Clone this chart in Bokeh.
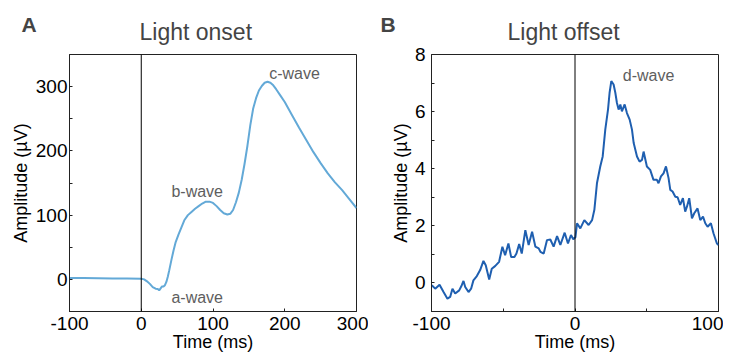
from bokeh.plotting import figure
from bokeh.models import Range1d, Span, Label, FixedTicker, Title, PrintfTickFormatter
from bokeh.layouts import row
from bokeh.embed import file_html
from bokeh.resources import INLINE

# ---------------- data ----------------
onset_time_ms = [-100, -80, -60, -40, -20, 0, 4, 8, 12, 16, 20, 23, 25, 27, 29, 31, 33, 35, 37, 39,
                 42, 45, 48, 52, 56, 60, 65, 70, 75, 80, 85, 90, 95, 100, 105, 110, 115, 120, 124,
                 128, 132, 136, 140, 144, 148, 152, 156, 160, 164, 168, 172, 176, 180, 184, 188,
                 194, 200, 210, 220, 230, 240, 250, 260, 270, 280, 290, 300]
onset_amp_uv = [2, 2, 1.8, 1.5, 1.5, 1, 0, -3, -7, -12, -14.5, -15, -17, -14, -11, -11, -9, -4, 4, 14,
                30, 45, 58, 70, 81, 92, 100, 105, 110, 114, 118, 121, 121, 119, 114, 108, 103, 101, 102,
                108, 120, 135, 155, 180, 208, 240, 266, 282, 294, 301, 306, 307.5, 306, 302, 296,
                286, 276, 256, 236, 217, 198, 181, 165, 151, 139, 125, 111]

offset_time_ms = [-99.8, -97.4, -94.4, -91.6, -88.9, -87.0, -85.4, -83.5, -80.7, -78.9, -77.7, -76.5,
                  -74.2, -72.4, -70.8, -68.4, -66.1, -63.8, -62.2, -59.8, -58.0, -55.7, -52.9, -50.6,
                  -48.7, -46.4, -44.5, -42.2, -40.8, -38.9, -37.1, -34.6, -32.3, -29.9, -27.6, -25.3,
                  -24.1, -21.8, -19.5, -17.2, -14.9, -12.5, -10.2, -7.2, -4.9, -2.8, -1.2, 0.3,
                  1.4, 3.7, 6.5, 9.5, 11.9, 13.5, 15.3, 17.6, 19.3, 21.1, 23.0, 24.1, 25.3, 26.9,
                  28.1, 29.2, 30.4, 31.6, 32.7, 34.6, 36.2, 38.1, 39.7, 40.9, 43.2, 45.0, 46.7, 47.8,
                  50.1, 52.4, 54.7, 57.1, 58.2, 59.9, 61.7, 63.4, 65.2, 66.4, 68.0, 69.9, 71.5, 73.3,
                  75.2, 76.8, 78.0, 79.6, 81.5, 83.1, 85.4, 87.3, 89.2, 90.8, 92.4, 94.7, 96.5, 98.9,
                  100.0]
offset_amp_uv = [-0.08, -0.2, -0.06, -0.32, -0.55, -0.49, -0.2, -0.37, -0.26, -0.08, 0.07, -0.14,
                 -0.32, -0.2, 0.09, 0.24, 0.45, 0.77, 0.62, 0.12, 0.5, 0.59, 0.74, 1.27,
                 0.97, 1.38, 0.91, 0.91, 1.03, 1.36, 1.03, 1.85, 1.33, 1.79, 1.27, 1.21,
                 1.09, 1.03, 1.5, 1.52, 1.27, 1.64, 1.33, 1.76, 1.38, 1.68, 1.53, 1.6,
                 2.09, 1.91, 2.2, 2.03, 2.2, 2.56, 3.49, 4.08, 4.43, 5.37, 6.07, 6.66, 7.07, 6.95,
                 6.66, 6.31, 6.07, 6.25, 6.01, 6.25, 5.95, 5.72, 5.37, 4.9, 4.43, 4.25, 4.31, 4.6,
                 4.08, 3.96, 3.61, 3.61, 3.49, 3.73, 3.84, 4.08, 3.67, 3.26, 3.2, 3.02, 3.0, 2.73,
                 2.97, 2.5, 2.67, 2.97, 2.26, 2.44, 2.61, 2.2, 2.32, 2.09, 1.97, 2.09, 1.74, 1.38,
                 1.33]

onset_xticks = [-100, 0, 100, 200, 300]
onset_yticks = [0, 100, 200, 300]
onset_yminor = [-50, 50, 150, 250, 350]
offset_xticks = [-100, 0, 100]
offset_xminor = [-50, 50]
offset_yticks = [0, 2, 4, 6, 8]
offset_yminor = [-1, 1, 3, 5, 7]

FONT = "Liberation Sans"
GRAY = "#5e5e5e"


def base_fig(width, xr, yr, left, right, ystandoff, ylabel_standoff, title_text, title_offset,
             letter, letter_offset):
    p = figure(width=width, height=357, x_range=Range1d(*xr), y_range=Range1d(*yr),
               output_backend="svg", toolbar_location=None,
               min_border_left=left, min_border_right=right,
               min_border_top=54, min_border_bottom=46)
    p.grid.visible = False
    p.outline_line_color = "#222222"
    p.outline_line_width = 1
    for ax in (p.xaxis[0], p.yaxis[0]):
        ax.axis_line_color = "#222222"
        ax.axis_line_width = 1
        ax.major_tick_in = 3
        ax.major_tick_out = 0
        ax.minor_tick_in = 3
        ax.minor_tick_out = 0
        ax.major_tick_line_color = "#222222"
        ax.minor_tick_line_color = "#222222"
        ax.major_label_text_font = FONT
        ax.major_label_text_font_size = "19px"
        ax.major_label_text_color = "black"
        ax.axis_label_text_font = FONT
        ax.axis_label_text_font_size = "18px"
        ax.axis_label_text_font_style = "normal"
        ax.axis_label_text_color = "black"
        ax.formatter = PrintfTickFormatter(format="%d")
    p.xaxis[0].major_label_standoff = 5
    p.xaxis[0].axis_label = "Time (ms)"
    p.xaxis[0].axis_label_standoff = -1
    p.yaxis[0].major_label_standoff = ystandoff
    p.yaxis[0].axis_label = "Amplitude (µV)"
    p.yaxis[0].axis_label_standoff = ylabel_standoff
    p.add_layout(Span(location=0, dimension="height", line_color="black", line_width=1))

    p.title.text = letter
    p.title.align = "left"
    p.title.offset = letter_offset
    p.title.text_font = FONT
    p.title.text_font_size = "21px"
    p.title.text_font_style = "bold"
    p.title.standoff = -56
    t = Title(text=title_text, align="left", offset=title_offset, text_font=FONT,
              text_font_size="23px", text_font_style="normal", standoff=19)
    p.add_layout(t, "above")
    return p


def txt(p, x, y, s):
    p.add_layout(Label(x=x, y=y, text=s, text_font=FONT, text_font_size="16px",
                       text_color=GRAY, text_align="center", text_baseline="alphabetic"))


# ---------------- panel A ----------------
p1 = base_fig(368, (-100, 300), (-50, 350), 69, 12, 2, 2, "Light onset", 70, "A", -48)
p1.xaxis[0].ticker = FixedTicker(ticks=onset_xticks)
p1.yaxis[0].ticker = FixedTicker(ticks=onset_yticks, minor_ticks=onset_yminor)
p1.line(onset_time_ms, onset_amp_uv, line_color="#63a9d7", line_width=2)
txt(p1, 213.6, 320, "c-wave")
txt(p1, 78, 137, "b-wave")
txt(p1, 78, -28.6, "a-wave")

# ---------------- panel B ----------------
p2 = base_fig(355, (-100, 100), (-1, 8), 63, 5, 6, 1, "Light offset", 76, "B", -51)
p2.xaxis[0].ticker = FixedTicker(ticks=offset_xticks, minor_ticks=offset_xminor)
p2.yaxis[0].ticker = FixedTicker(ticks=offset_yticks, minor_ticks=offset_yminor)
p2.line(offset_time_ms, offset_amp_uv, line_color="#1f5fb0", line_width=2)
txt(p2, 51.3, 7.27, "d-wave")

layout = row(p1, p2)
open("out.html", "w").write(file_html(layout, INLINE))
